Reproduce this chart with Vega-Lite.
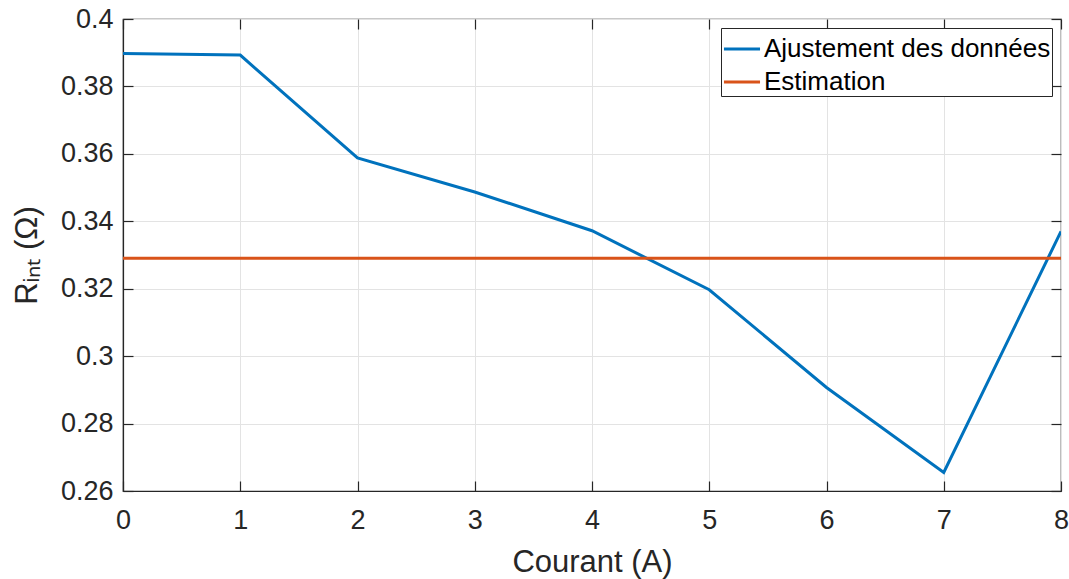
{
  "$schema": "https://vega.github.io/schema/vega-lite/v6.json",
  "autosize": "none",
  "width": 938,
  "height": 472,
  "padding": {"left": 123, "top": 19, "right": 8, "bottom": 88},
  "background": "white",
  "config": {
    "font": "Liberation Sans",
    "view": {"stroke": "#262626", "strokeWidth": 1.2}
  },
  "data": {
    "values": [
      {"courant": 0, "r": 0.3898, "serie": "Ajustement des données"},
      {"courant": 1, "r": 0.3893, "serie": "Ajustement des données"},
      {"courant": 2, "r": 0.3588, "serie": "Ajustement des données"},
      {"courant": 3, "r": 0.3487, "serie": "Ajustement des données"},
      {"courant": 4, "r": 0.3372, "serie": "Ajustement des données"},
      {"courant": 5, "r": 0.3197, "serie": "Ajustement des données"},
      {"courant": 6, "r": 0.2907, "serie": "Ajustement des données"},
      {"courant": 7, "r": 0.2655, "serie": "Ajustement des données"},
      {"courant": 8, "r": 0.3370, "serie": "Ajustement des données"},
      {"courant": 0, "r": 0.3290, "serie": "Estimation"},
      {"courant": 8, "r": 0.3290, "serie": "Estimation"}
    ]
  },
  "resolve": {"axis": {"x": "independent", "y": "independent"}},
  "layer": [
    {
      "mark": {"type": "line", "strokeWidth": 3, "clip": true},
      "encoding": {
        "x": {
          "field": "courant", "type": "quantitative",
          "scale": {"domain": [0, 8], "nice": false, "zero": false},
          "axis": {"title": "Courant (A)", "values": [0,1,2,3,4,5,6,7,8], "labelFlush": false, "labelPadding": 26, "titlePadding": 14, "grid": true,
            "labelFont": "Liberation Sans", "titleFont": "Liberation Sans", "labelFontSize": 27, "titleFontSize": 31, "titleFontWeight": "normal",
            "labelColor": "#262626", "titleColor": "#262626", "domainColor": "#262626", "tickColor": "#262626", "gridColor": "#e3e3e3",
            "tickSize": -10, "domainWidth": 1.2, "tickWidth": 1.2}
        },
        "y": {
          "field": "r", "type": "quantitative",
          "scale": {"domain": [0.26, 0.4], "nice": false, "zero": false},
          "axis": {"title": "Rᵢₙₜ (Ω)", "values": [0.26,0.28,0.3,0.32,0.34,0.36,0.38,0.4], "labelFlush": false, "labelPadding": 20, "titlePadding": 17, "grid": true,
            "labelFont": "Liberation Sans", "titleFont": "Liberation Sans", "labelFontSize": 27, "titleFontSize": 31, "titleFontWeight": "normal",
            "labelColor": "#262626", "titleColor": "#262626", "domainColor": "#262626", "tickColor": "#262626", "gridColor": "#e3e3e3",
            "tickSize": -10, "domainWidth": 1.2, "tickWidth": 1.2,
            "labelExpr": "datum.value == 0.3 ? '0.3' : datum.value == 0.4 ? '0.4' : datum.label"}
        },
        "color": {
          "field": "serie", "type": "nominal",
          "scale": {"domain": ["Ajustement des données", "Estimation"], "range": ["#0072BD", "#D95319"]},
          "legend": {
            "title": null,
            "orient": "none",
            "legendX": 598,
            "legendY": 9,
            "symbolType": "stroke",
            "symbolSize": 1300,
            "symbolStrokeWidth": 3,
            "labelFontSize": 26,
            "labelFont": "Liberation Sans",
            "labelColor": "#000000",
            "rowPadding": -5,
            "labelOffset": 2,
            "strokeColor": "#262626",
            "fillColor": "white",
            "padding": 1,
            "labelLimit": 400
          }
        }
      }
    },
    {
      "mark": {"type": "point", "opacity": 0},
      "encoding": {
        "x": {
          "field": "courant", "type": "quantitative",
          "axis": {"orient": "top", "title": null, "labels": false, "values": [0,1,2,3,4,5,6,7,8], "grid": false, "domain": false,
            "tickColor": "#262626", "tickSize": -10, "tickWidth": 1.2}
        },
        "y": {
          "field": "r", "type": "quantitative",
          "axis": {"orient": "right", "title": null, "labels": false, "values": [0.26,0.28,0.3,0.32,0.34,0.36,0.38,0.4], "grid": false, "domain": false,
            "tickColor": "#262626", "tickSize": -10, "tickWidth": 1.2}
        }
      }
    }
  ]
}
